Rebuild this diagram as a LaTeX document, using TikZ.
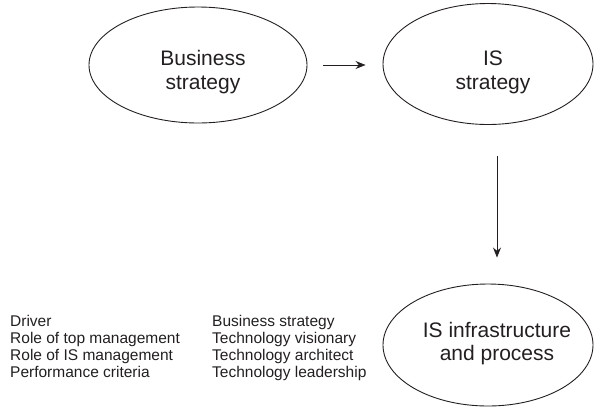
\documentclass[tikz,border=0pt]{standalone}
\usepackage{fontspec}
\setmainfont{Liberation Sans}
\usetikzlibrary{arrows.meta,shapes.geometric}
\definecolor{ink}{HTML}{231F20}
\begin{document}
\begin{tikzpicture}[x=1pt,y=-1pt,
  oval/.style={draw=ink, line width=0.9pt, ellipse, inner sep=0pt},
  big/.style={font=\fontsize{21}{24}\selectfont, text=ink, anchor=base, inner sep=0pt},
  lst/.style={font=\fontsize{15.5}{17}\selectfont, text=ink, anchor=base west, inner sep=0pt},
  arr/.style={draw=ink, line width=0.9pt, -{Stealth[length=10pt,width=8pt]}}]
\useasboundingbox (0,0) rectangle (594,408);
% ellipses
\node[oval, minimum width=218pt, minimum height=116pt] (e1) at (198,65) {};
\node[oval, minimum width=210pt, minimum height=121pt] (e2) at (488,64) {};
\node[oval, minimum width=210pt, minimum height=122pt] (e3) at (488,345) {};
% ellipse texts
\node[big] (t1a) at (203,65) {Business};
\node[big] (t1b) at (203,89) {strategy};
\node[big] (t2a) at (493,65) {IS};
\node[big] (t2b) at (493,89) {strategy};
\node[big] (t3a) at (497,337) {IS infrastructure};
\node[big] (t3b) at (497,360) {and process};
% connectors
\draw[arr] ([xshift=16pt]e1.east) -- ([xshift=-17pt]e2.west |- e1.east);
\draw[arr] ([xshift=9pt,yshift=-31pt]e2.south) -- ([xshift=9pt,yshift=26pt]e3.north);
% left lists
\node[lst] (l1) at (10,326) {Driver};
\node[lst] (l2) at (10,343.2) {Role of top management};
\node[lst] (l3) at (10,360.4) {Role of IS management};
\node[lst] (l4) at (10,377.6) {Performance criteria};
\node[lst] (r1) at (212,326) {Business strategy};
\node[lst] (r2) at (212,343.2) {Technology visionary};
\node[lst] (r3) at (212,360.4) {Technology architect};
\node[lst] (r4) at (212,377.6) {Technology leadership};
\end{tikzpicture}
\end{document}
